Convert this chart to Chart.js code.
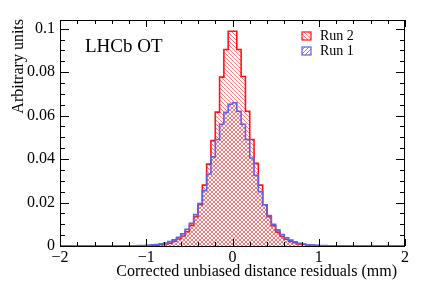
<!DOCTYPE html>
<html>
<head>
<meta charset="utf-8">
<script src="https://cdn.jsdelivr.net/npm/chart.js@4/dist/chart.umd.min.js"></script>
<style>
  html, body { margin: 0; padding: 0; background: #fff; }
  #wrap { width: 427px; height: 292px; }
</style>
</head>
<body>
<div id="wrap"><canvas id="chart" width="427" height="292"></canvas></div>
<script>
'use strict';

// bins of 0.05 mm from -2 to 2
const binStart = -2;
const binWidth = 0.05;

// Run 2, bins -2.00 .. 2.00 (80 bins)
const run2Values = [
  0, 0, 0, 0, 0, 0, 0, 0, 0, 0,
  0, 0, 0, 0, 0, 0, 0.00005, 0.00005, 0.0001, 0.0001,
  0.0002, 0.0003, 0.0004, 0.0006, 0.0009, 0.0013, 0.0022, 0.0032, 0.0046, 0.0066,
  0.0095, 0.0135, 0.0190, 0.0280, 0.0377, 0.0485, 0.0616, 0.0777, 0.0904, 0.0988,
  0.0988, 0.0904, 0.0780, 0.0620, 0.0490, 0.0380, 0.0280, 0.0190, 0.0135, 0.0093,
  0.0064, 0.0045, 0.0031, 0.0021, 0.0015, 0.0010, 0.0007, 0.0005, 0.0003, 0.0002,
  0.0001, 0.0001, 0.00005, 0.00005, 0, 0, 0, 0, 0, 0,
  0, 0, 0, 0, 0, 0, 0, 0, 0, 0
];

// Run 1
const run1Values = [
  0, 0, 0, 0, 0, 0, 0, 0, 0, 0,
  0, 0, 0, 0, 0.00005, 0.00005, 0.0001, 0.0001, 0.0002, 0.0002,
  0.0003, 0.0005, 0.0007, 0.0010, 0.0014, 0.0020, 0.0028, 0.0040, 0.0056, 0.0077,
  0.0105, 0.0145, 0.0195, 0.0255, 0.0330, 0.0410, 0.0490, 0.0560, 0.0615, 0.0652,
  0.0659, 0.0620, 0.0560, 0.0490, 0.0405, 0.0325, 0.0250, 0.0190, 0.0140, 0.0100,
  0.0074, 0.0053, 0.0038, 0.0027, 0.0019, 0.0013, 0.0009, 0.0006, 0.0004, 0.0003,
  0.0002, 0.0002, 0.0001, 0.0001, 0.00005, 0.00005, 0, 0, 0, 0,
  0, 0, 0, 0, 0, 0, 0, 0, 0, 0
];

const seriesLabels = ['Run 2', 'Run 1'];
const xTickValues = [-2, -1, 0, 1, 2];
const yTickValues = [0, 0.02, 0.04, 0.06, 0.08, 0.1];

const SERIF = '"Liberation Serif", "DejaVu Serif", serif';

function histPoints(values) {
  let pts = values.map((v, i) => ({ x: binStart + i * binWidth, y: v }));
  pts.push({ x: binStart + values.length * binWidth, y: values[values.length - 1] });
  return pts;
}

function hatch(color, dir) {
  const s = 4;
  const c = document.createElement('canvas');
  c.width = s; c.height = s;
  const g = c.getContext('2d');
  g.strokeStyle = color;
  g.lineWidth = 1;
  g.beginPath();
  if (dir > 0) { // '/'
    g.moveTo(0, s); g.lineTo(s, 0);
    g.moveTo(-1, 1); g.lineTo(1, -1);
    g.moveTo(s - 1, s + 1); g.lineTo(s + 1, s - 1);
  } else { // '\'
    g.moveTo(0, 0); g.lineTo(s, s);
    g.moveTo(-1, s - 1); g.lineTo(1, s + 1);
    g.moveTo(s - 1, -1); g.lineTo(s + 1, 1);
  }
  g.stroke();
  return g.createPattern(c, 'repeat');
}

const redLine = 'rgb(255,20,20)';
const blueLine = 'rgb(96,96,235)';
const redHatch = hatch('rgba(255,70,70,0.7)', -1);
const blueHatch = hatch('rgba(90,90,240,0.7)', 1);

// frame, inside ticks, titles, legend
const decorations = {
  id: 'decorations',
  afterDraw(chart) {
    const ctx = chart.ctx;
    const a = chart.chartArea;
    const xs = chart.scales.x, ys = chart.scales.y;
    ctx.save();
    ctx.strokeStyle = '#000';
    ctx.lineWidth = 1;
    ctx.strokeRect(a.left + 0.5, a.top + 0.5, a.right - a.left - 1, a.bottom - a.top);

    ctx.beginPath();
    // x ticks every 0.2, major every 1
    for (let k = 0; k <= 20; k++) {
      const v = -2 + k * 0.2;
      const px = Math.round(xs.getPixelForValue(v)) + 0.5;
      const len = (k % 5 === 0) ? 7 : 4;
      ctx.moveTo(px, a.bottom); ctx.lineTo(px, a.bottom - len);
      ctx.moveTo(px, a.top); ctx.lineTo(px, a.top + len);
    }
    // y ticks every 0.005, major every 0.02
    for (let k = 0; k <= 20; k++) {
      const v = k * 0.005;
      const py = Math.round(ys.getPixelForValue(v)) + 0.5;
      const len = (k % 4 === 0) ? 9 : 5;
      ctx.moveTo(a.left, py); ctx.lineTo(a.left + len, py);
      ctx.moveTo(a.right, py); ctx.lineTo(a.right - len, py);
    }
    ctx.stroke();

    ctx.fillStyle = '#000';
    // x title
    ctx.font = '16px ' + SERIF;
    ctx.textAlign = 'right';
    ctx.textBaseline = 'alphabetic';
    ctx.fillText('Corrected unbiased distance residuals (mm)', 397, 276);
    // y title
    ctx.save();
    ctx.translate(23, 19);
    ctx.rotate(-Math.PI / 2);
    ctx.textAlign = 'right';
    ctx.fillText('Arbitrary units', 0, 0);
    ctx.restore();

    // experiment label
    ctx.font = '19px ' + SERIF;
    ctx.textAlign = 'left';
    ctx.fillText('LHCb OT', 85, 52);

    // legend
    const items = [
      { label: seriesLabels[0], fill: redHatch, line: redLine, y: 32 },
      { label: seriesLabels[1], fill: blueHatch, line: blueLine, y: 47 }
    ];
    ctx.font = '14px ' + SERIF;
    ctx.textBaseline = 'middle';
    items.forEach(it => {
      ctx.fillStyle = it.fill;
      ctx.fillRect(302, it.y, 9, 8);
      ctx.strokeStyle = it.line;
      ctx.lineWidth = 1.2;
      ctx.strokeRect(302, it.y, 9, 8);
      ctx.fillStyle = '#000';
      ctx.fillText(it.label, 320, it.y + 4.5);
    });
    ctx.restore();
  }
};

const chart = new Chart(document.getElementById('chart'), {
  type: 'line',
  data: {
    datasets: [{
      label: seriesLabels[1],
      data: histPoints(run1Values),
      borderColor: blueLine,
      backgroundColor: blueHatch,
      borderWidth: 1.6,
      fill: 'origin',
      stepped: true,
      pointRadius: 0,
      order: 0
    }, {
      label: seriesLabels[0],
      data: histPoints(run2Values),
      borderColor: redLine,
      backgroundColor: redHatch,
      borderWidth: 1.6,
      fill: 'origin',
      stepped: true,
      pointRadius: 0,
      order: 1
    }]
  },
  options: {
    responsive: false,
    animation: false,
    devicePixelRatio: 1,
    layout: { padding: { top: 20, right: 22, left: 0, bottom: 0 } },
    plugins: { legend: { display: false }, tooltip: { enabled: false } },
    scales: {
      x: {
        type: 'linear',
        min: -2,
        max: 2,
        grid: { display: false, drawTicks: false },
        border: { display: false },
        afterBuildTicks: s => { s.ticks = xTickValues.map(v => ({ value: v })); },
        afterFit: s => { s.height = 46; },
        ticks: {
          padding: 2,
          color: '#000',
          maxRotation: 0,
          font: { family: SERIF, size: 16 },
          callback: v => (v < 0 ? '\u2212' + Math.abs(v) : String(v))
        }
      },
      y: {
        min: 0,
        max: 0.104,
        grid: { display: false, drawTicks: false },
        border: { display: false },
        afterBuildTicks: s => { s.ticks = yTickValues.map(v => ({ value: v })); },
        afterFit: s => { s.width = 60; },
        ticks: {
          padding: 5,
          color: '#000',
          font: { family: SERIF, size: 16 },
          callback: v => String(parseFloat(v.toFixed(3)))
        }
      }
    }
  },
  plugins: [decorations]
});
</script>
</body>
</html>
